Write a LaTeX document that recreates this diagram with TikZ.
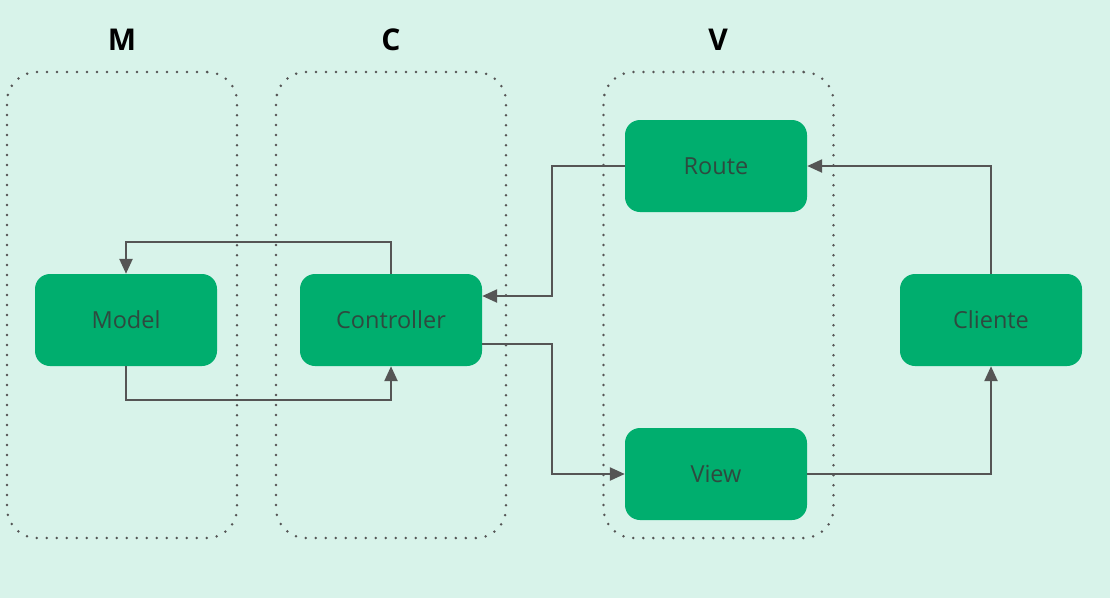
\documentclass[tikz,border=0pt]{standalone}
\usepackage{fontspec}
\setmainfont{Open Sans}
\usetikzlibrary{arrows.meta}

\definecolor{bgmint}{HTML}{D8F3EA}
\definecolor{boxgreen}{HTML}{00AE6E}
\definecolor{boxtext}{HTML}{2E4A3F}
\definecolor{wire}{HTML}{555555}

\begin{document}
\begin{tikzpicture}[x=1pt,y=-1pt,
    layer/.style={draw=wire,line width=2.8pt,line cap=round,dash pattern=on 0pt off 10pt,
      rounded corners=30pt,minimum width=230pt,minimum height=466pt,inner sep=0pt},
    tag/.style={font=\fontsize{30}{34}\selectfont\bfseries,text=black},
    part/.style={fill=boxgreen,rounded corners=15pt,minimum width=182pt,minimum height=92pt,
      inner sep=0pt,text=boxtext,font=\fontsize{23.5}{28}\selectfont},
    flow/.style={draw=wire,line width=2.4pt,-{Triangle[length=15pt,width=13pt]}}]
      \fill[bgmint] (0,0) rectangle (1110,598);
      \useasboundingbox (0,0) rectangle (1110,598);
      \node[layer] (layerM) at (122,305) {};
      \node[layer] (layerC) at (391,305) {};
      \node[layer] (layerV) at (718.5,305) {};
      \node[tag] (tagM) at (122,40) {M};
      \node[tag] (tagC) at (391,40) {C};
      \node[tag] (tagV) at (718,40) {V};
      \node[part] (model) at (126,320) {Model};
      \node[part] (controller) at (391,320) {Controller};
      \node[part] (route) at (716,166) {Route};
      \node[part] (view) at (716,474) {View};
      \node[part] (cliente) at (991,320) {Cliente};
      \draw[flow] (controller.north) -- ++(0,-32) -| (model.north);
      \draw[flow] (model.south) -- ++(0,34) -| (controller.south);
      \draw[flow] (route.west) -- ++(-73,0) |- ([yshift=24pt]controller.east);
      \draw[flow] ([yshift=-24pt]controller.east) -- ++(70,0) |- (view.west);
      \draw[flow] (view.east) -| (cliente.south);
      \draw[flow] (cliente.north) |- (route.east);
\end{tikzpicture}
\end{document}
